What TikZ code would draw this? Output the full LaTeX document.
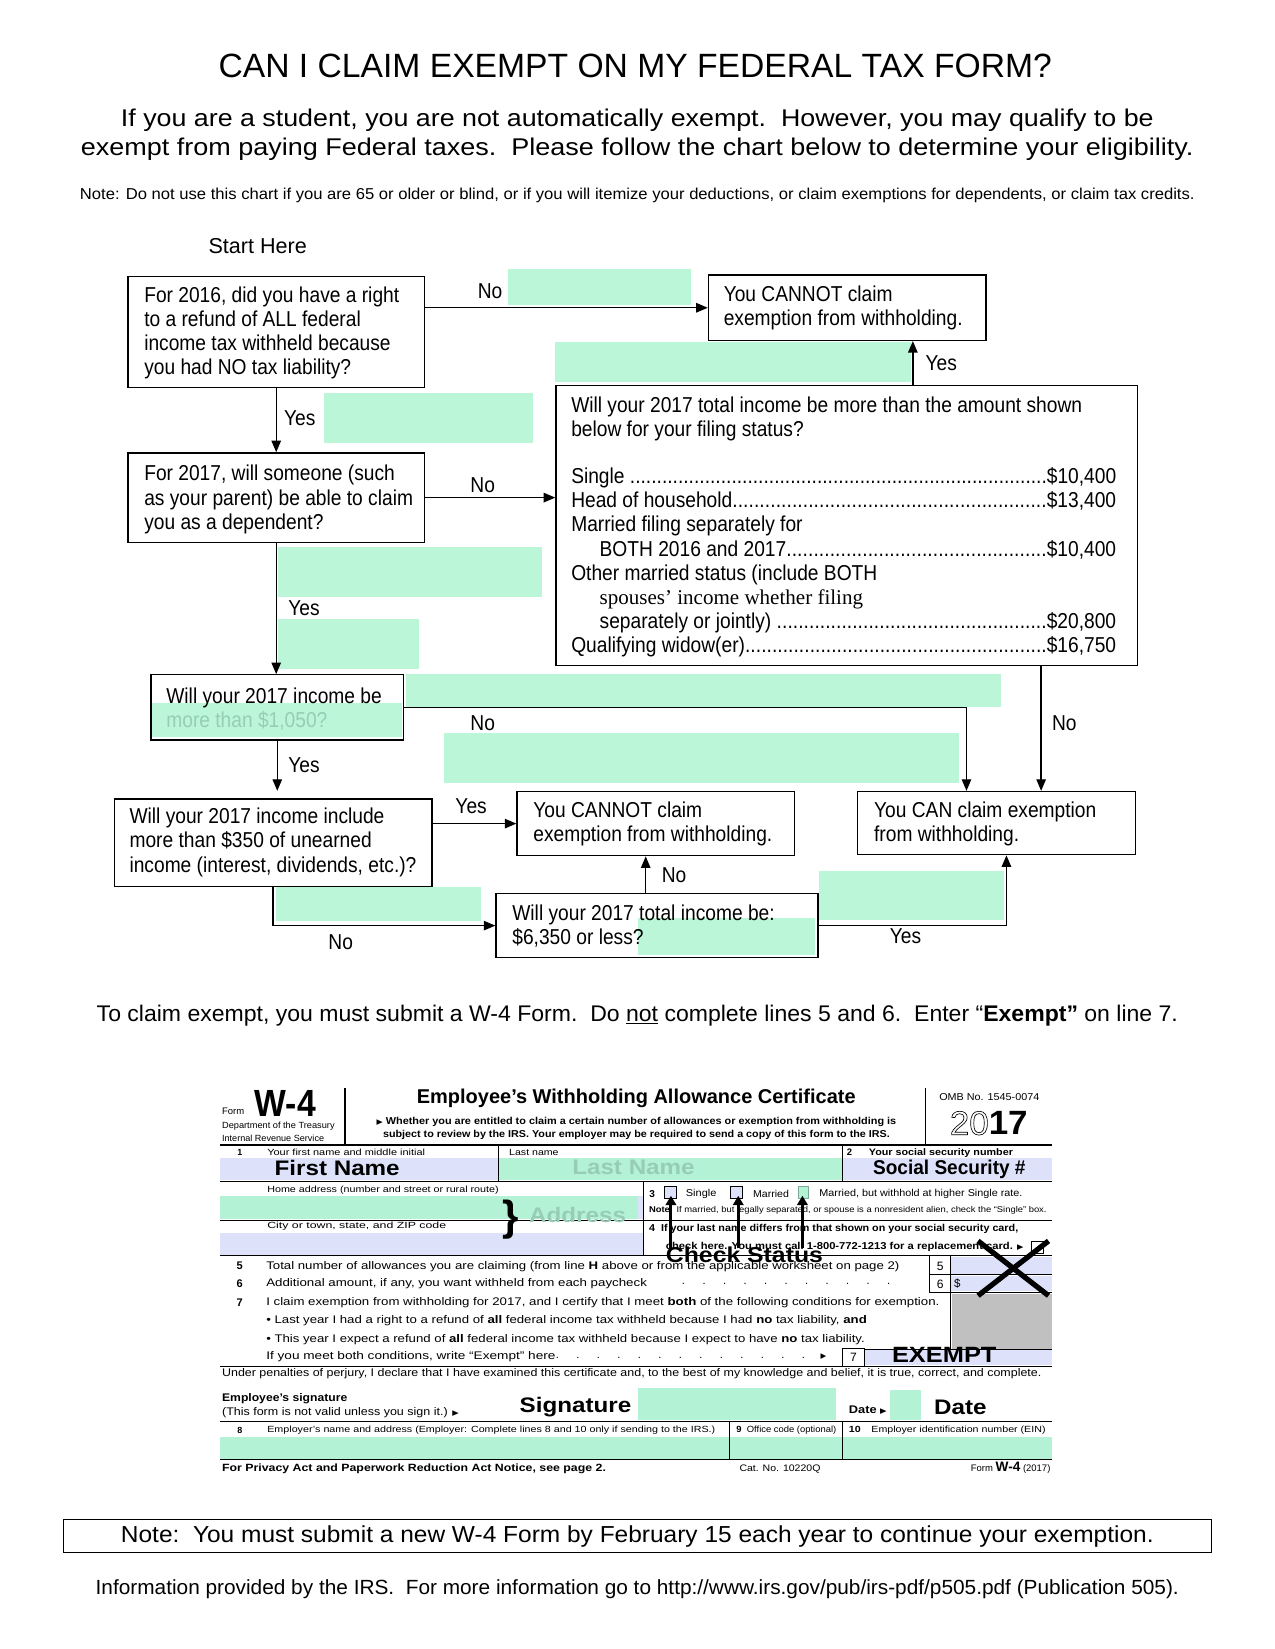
\documentclass[tikz,border=0pt]{standalone}
\usepackage{fontspec}
\usepackage{graphicx}
\setmainfont{Liberation Sans}
\newfontfamily\nar{Liberation Sans}[FakeStretch=0.89]
\newfontfamily\serifF{Liberation Serif}
\newfontfamily\symf{DejaVu Sans}
\usetikzlibrary{arrows.meta,calc}
\definecolor{mint}{RGB}{187,246,217}
\definecolor{formgreen}{RGB}{180,242,214}
\definecolor{lav}{RGB}{221,226,250}
\definecolor{fade}{RGB}{150,205,180}
\definecolor{grayfill}{RGB}{192,192,192}
\newcommand\fsz[2]{\fontsize{#1}{#2}\selectfont}
\newcommand\flow{\nar\fsz{20.5}{23}}
\newcommand\heavy[2][20]{\scalebox{1.15}[1]{\bfseries\fsz{#1}{#1}#2}}
\newcommand\dotsfill{\xleaders\hbox{.}\hfill}
\newcommand\spdots[1]{\makebox[#1][l]{\leaders\hbox to 19.5pt{\hss.\hss}\hfill}}
\newcommand\tri{{\symf\fsz{7}{7}▶}}
\newcommand\fitw[2]{\resizebox{#1}{\height}{#2}}
\newcommand\outlinetext[1]{\special{pdf:literal direct 1 Tr 0.6 w}#1\special{pdf:literal direct 0 Tr}}
\begin{document}
\begin{tikzpicture}[x=1pt,y=-1pt,
  box/.style={draw, line width=1.3pt, inner sep=0pt, anchor=north west},
  txt/.style={anchor=west, inner sep=0pt, align=left, font=\flow},
  lbl/.style={inner sep=0pt, font=\flow},
  arr/.style={line width=1.3pt, -{Triangle[length=11pt,width=9pt]}},
  patch/.style={fill=mint, draw=none},
  ft/.style={anchor=west, inner sep=0pt},
  fc/.style={inner sep=0pt},
  fl/.style={line width=0.8pt},
  fthick/.style={line width=1.8pt},
  bigarr/.style={line width=2.8pt, -{Triangle[length=9pt,width=10pt]}},
]
\useasboundingbox (0,0) rectangle (1212.3,1568);
\fill[white] (0,0) rectangle (1212.3,1568);

% ---------------- header ----------------
\node[fc, font=\fsz{32}{38}] (title) at (604,63) {CAN I CLAIM EXEMPT ON MY FEDERAL TAX FORM?};
\node[fc, align=center, font=\fsz{23}{27}] (sub) at (606,128) {\fitw{982pt}{If you are a student, you are not automatically exempt.\ \ However, you may qualify to be}\\\fitw{1058pt}{exempt from paying Federal taxes.\ \ Please follow the chart below to determine your eligibility.}};
\node[fc, font=\fsz{15}{15}] (note) at (606,186) {\fitw{1060pt}{Note: Do not use this chart if you are 65 or older or blind, or if you will itemize your deductions, or claim exemptions for dependents, or claim tax credits.}};
\node[fc, font=\fsz{20.5}{20.5}] (start) at (245,234) {Start Here};

% ---------------- green patches ----------------
\fill[patch] (483,256) rectangle (657,290);
\fill[patch] (528,325) rectangle (866,363);
\fill[patch] (308,374) rectangle (507,421);
\fill[patch] (264,520) rectangle (515,568);
\fill[patch] (264,589) rectangle (398,636);
\fill[patch] (386,641) rectangle (952,672);
\fill[patch] (422,697) rectangle (912,745);
\fill[patch] (144,668) rectangle (382,701);
\fill[patch] (262,843) rectangle (457,876);
\fill[patch] (607,873) rectangle (775,908);
\fill[patch] (779,828) rectangle (955,875);

% ---------------- boxes ----------------
\node[box, minimum width=282pt, minimum height=106pt] (q1) at (121,262) {};
\node[box, minimum width=264pt, minimum height=62pt] (c1) at (673,261) {};
\node[box, minimum width=553pt, minimum height=266pt] (big) at (528,366) {};
\node[box, minimum width=282pt, minimum height=85pt] (q2) at (121,430) {};
\node[box, minimum width=240pt, minimum height=62pt] (q3) at (143,641) {};
\node[box, minimum width=302pt, minimum height=83pt] (q4) at (108,759) {};
\node[box, minimum width=264pt, minimum height=61pt] (c2) at (491,752) {};
\node[box, minimum width=264pt, minimum height=60pt] (can) at (815,752) {};
\node[box, minimum width=306pt, minimum height=61pt] (q5) at (471,849) {};

\node[txt] (q1t) at (137,316.5) {For 2016, did you have a right\\to a refund of ALL federal\\income tax withheld because\\you had NO tax liability?};
\node[txt] (c1t) at (688,292.5) {You CANNOT claim\\exemption from withholding.};
\node[txt] (bigt) at (543,501) {Will your 2017 total income be more than the amount shown\\below for your filing status?\\[22pt]
\makebox[518pt][l]{Single \dotsfill\$10,400}\\
\makebox[518pt][l]{Head of household\dotsfill\$13,400}\\
Married filing separately for\\
\makebox[518pt][l]{\hspace*{27pt}BOTH 2016 and 2017\dotsfill\$10,400}\\
Other married status (include BOTH\\
\hspace*{27pt}{\serifF\fsz{20}{23}spouses’ income whether filing}\\
\makebox[518pt][l]{\hspace*{27pt}separately or jointly) \dotsfill\$20,800}\\
\makebox[518pt][l]{Qualifying widow(er)\dotsfill\$16,750}};
\node[txt] (q2t) at (137,475) {For 2017, will someone (such\\as your parent) be able to claim\\you as a dependent?};
\node[txt] (q3t) at (158,674) {Will your 2017 income be\\\textcolor{fade}{more than \$1,050?}};
\node[txt] (q4t) at (123,801) {Will your 2017 income include\\more than \$350 of unearned\\income (interest, dividends, etc.)?};
\node[txt] (c2t) at (507,783.5) {You CANNOT claim\\exemption from withholding.};
\node[txt] (cant) at (831,783.5) {You CAN claim exemption\\from withholding.};
\node[txt] (q5t) at (487,880.5) {Will your 2017 total income be:\\\$6,350 or less?};

% ---------------- connectors ----------------
\coordinate (k1) at (919,0);
\coordinate (k2) at (990,0);
\coordinate (k3) at (868,0);
\coordinate (k4) at (614,0);
\coordinate (k5) at (957,0);
\draw[arr] (q1.east |- c1.west) -- (c1.west);
\draw[arr] (k3 |- big.north) -- (k3 |- c1.south);
\draw[arr] (q1.south) -- (q2.north);
\draw[arr] (q2.east) -- (q2.east -| big.west);
\draw[arr] (q2.south) -- (q2.south |- q3.north);
\draw[arr] (q3.east) -- (q3.east -| k1) -- (k1 |- can.north);
\draw[arr] (k2 |- big.south) -- (k2 |- can.north);
\draw[arr, shorten >=7pt] (q3.south) -- (q3.south |- q4.north);
\draw[arr] (c2.west -| q4.east) -- (c2.west);
\draw[arr] (q4.south) -- (q4.south |- q5.west) -- (q5.west);
\draw[arr] (k4 |- q5.north) -- (k4 |- c2.south);
\draw[arr] (q5.east) -- (q5.east -| k5) -- (k5 |- can.south);

\node[lbl] (l1) at (466,277) {No};
\node[lbl] (l2) at (895,345) {Yes};
\node[lbl] (l3) at (285,398) {Yes};
\node[lbl] (l4) at (459,461) {No};
\node[lbl] (l5) at (289,578) {Yes};
\node[lbl] (l6) at (459,688) {No};
\node[lbl] (l7) at (1012,688) {No};
\node[lbl] (l8) at (289,728) {Yes};
\node[lbl] (l9) at (448,767) {Yes};
\node[lbl] (l10) at (324,896) {No};
\node[lbl] (l11) at (641,832) {No};
\node[lbl] (l12) at (861,890) {Yes};

\node[fc, font=\fsz{21.5}{21.5}] (claim) at (606,966) {\fitw{1028pt}{To claim exempt, you must submit a W-4 Form.\ \ Do \underline{not} complete lines 5 and 6.\ \ Enter “\textbf{Exempt”} on line 7.}};

% ---------------- W-4 form ----------------
\node[ft, font=\fsz{9}{9}] (formlbl) at (211,1057) {Form};
\node[ft, font=\nar\bfseries\fsz{36}{36}] (w4) at (242,1049) {W-4};
\node[ft, font=\nar\fsz{8.5}{8.5}] (dept) at (211,1071) {\fitw{107pt}{Department of the Treasury}};
\node[ft, font=\nar\fsz{8.5}{8.5}] (irsl) at (211,1082) {\fitw{97pt}{Internal Revenue Service}};
\draw[fthick] (328,1035) -- (328,1088);
\node[fc, font=\bfseries\fsz{19}{19}] (wtitle) at (605,1044) {Employee’s Withholding Allowance Certificate};
\node[ft, font=\bfseries\fsz{9.5}{9.5}] (wh1) at (358,1067) {\fitw{494pt}{\tri\ Whether you are entitled to claim a certain number of allowances or exemption from withholding is}};
\node[ft, font=\bfseries\fsz{9.5}{9.5}] (wh2) at (364,1079) {\fitw{482pt}{subject to review by the IRS. Your employer may be required to send a copy of this form to the IRS.}};
\draw[fthick] (880,1035) -- (880,1088);
\node[ft, font=\fsz{9.5}{9.5}] (omb) at (893,1043) {\fitw{95pt}{OMB No. 1545-0074}};
\node[ft, font=\fsz{32}{32}] (yr) at (903,1068) {\fitw{74pt}{\outlinetext{20}\textbf{17}}};
\draw[fthick] (209,1089) -- (1000,1089);

% row 1
\fill[lav] (209,1101) rectangle (474,1122);
\fill[formgreen] (474,1101) rectangle (801,1122);
\fill[lav] (801,1101) rectangle (1000,1122);
\node[fc, font=\bfseries\fsz{8.5}{8.5}] (n1) at (228,1096) {1};
\node[ft, font=\fsz{8.5}{8.5}] (fnl) at (254,1096) {\fitw{150pt}{Your first name and middle initial}};
\node[ft, font=\fsz{8.5}{8.5}] (lnl) at (484,1096) {\fitw{47pt}{Last name}};
\node[ft, font=\bfseries\fsz{9}{9}] (n2) at (805,1096) {2};
\node[ft, font=\bfseries\fsz{9}{9}] (ssl) at (826,1096) {\fitw{137pt}{Your social security number}};
\node[ft] (fn) at (261,1111) {\heavy{First Name}};
\node[ft, text=fade] (lnv) at (544,1110) {\heavy{Last Name}};
\node[ft, font=\bfseries\fsz{19}{19}] (ssv) at (830,1112) {\fitw{145pt}{Social Security \#}};
\draw[fl] (474,1089) -- (474,1123);
\draw[fl] (801,1089) -- (801,1123);
\draw[fl] (209,1123) -- (1000,1123);

% address rows
\node[ft, font=\fsz{8.5}{8.5}] (hal) at (254,1132) {\fitw{220pt}{Home address (number and street or rural route)}};
\fill[formgreen] (209,1137) rectangle (607,1159);
\fill[lav] (607,1137) rectangle (612,1159);
\draw[fl] (209,1160) -- (1000,1160);
\node[ft, font=\fsz{8.5}{8.5}] (cityl) at (254,1166) {\fitw{170pt}{City or town, state, and ZIP code}};
\fill[lav] (209,1172) rectangle (612,1193);
\node[ft, font=\bfseries\fsz{40}{40}] (brace) at (478,1160) {\}};
\node[ft, text=fade] (addr) at (503,1155) {\heavy{Address}};
\draw[fl] (612,1123) -- (612,1194);

% row 3/4
\node[fc, font=\bfseries\fsz{9.5}{9.5}] (n3) at (620,1135) {3};
\draw[fl, fill=lav] (632,1128) rectangle (643,1140);
\draw[fl, fill=lav] (695,1128) rectangle (706,1140);
\draw[fl, draw=formgreen!70!black, fill=formgreen] (759,1128) rectangle (769,1140);
\node[ft, font=\fsz{9.5}{9.5}] (sgl) at (652,1135) {\fitw{29pt}{Single}};
\node[ft, font=\fsz{9.5}{9.5}] (mar) at (716,1135) {\fitw{34pt}{Married}};
\node[ft, font=\fsz{9.5}{9.5}] (marh) at (779,1135) {\fitw{193pt}{Married, but withhold at higher Single rate.}};
\node[ft, font=\fsz{8}{8}] (n3note) at (617,1151) {\fitw{378pt}{\textbf{Note:} If married, but legally separated, or spouse is a nonresident alien, check the “Single” box.}};
\node[ft, font=\bfseries\fsz{9.5}{9.5}] (n4a) at (617,1169) {\fitw{351pt}{4\ \ If your last name differs from that shown on your social security card,}};
\node[ft, font=\bfseries\fsz{9.5}{9.5}] (n4b) at (633,1186) {\fitw{340pt}{check here. You must call 1-800-772-1213 for a replacement card. \tri}};
\draw[fl] (981,1180) rectangle (992,1192);
\draw[fl] (209,1194) -- (1000,1194);
\node[ft] (chk) at (633,1193) {\heavy[20.5]{Check Status}};
\draw[bigarr] (638,1187) -- (638,1137);
\draw[bigarr] (702,1187) -- (702,1137);
\draw[bigarr] (763,1187) -- (763,1137);

% rows 5,6
\fill[lav] (904,1195) rectangle (1000,1211);
\fill[lav] (904,1213) rectangle (1000,1228);
\fill[grayfill] (905,1230) rectangle (1000,1283);
\draw[fl] (884,1194) -- (884,1229);
\draw[fl] (904,1194) -- (904,1283);
\draw[fl] (884,1212) -- (1000,1212);
\draw[fl] (884,1229) -- (1000,1229);
\node[fc, font=\fsz{11.5}{11.5}] (b5) at (894,1204) {5};
\node[fc, font=\fsz{11.5}{11.5}] (b6) at (894,1221) {6};
\node[ft, font=\fsz{11}{11}] (dol) at (907,1221) {\$};
\node[fc, font=\bfseries\fsz{10.5}{10.5}] (n5) at (228,1204) {5};
\node[ft, font=\fsz{10.5}{10.5}] (t5) at (253,1204) {\fitw{602pt}{Total number of allowances you are claiming (from line \textbf{H} above or from the applicable worksheet on page 2)}};
\node[fc, font=\bfseries\fsz{10.5}{10.5}] (n6) at (228,1221) {6};
\node[ft, font=\fsz{10.5}{10.5}] (t6) at (253,1221) {\fitw{362pt}{Additional amount, if any, you want withheld from each paycheck}};
\node[ft, font=\fsz{10.5}{10.5}] (d6) at (640,1221) {\spdots{225pt}};

% row 7
\node[fc, font=\bfseries\fsz{10.5}{10.5}] (n7) at (228,1239) {7};
\node[ft, font=\fsz{10.5}{10.5}] (t7a) at (253,1239) {\fitw{640pt}{I claim exemption from withholding for 2017, and I certify that I meet \textbf{both} of the following conditions for exemption.}};
\node[ft, font=\fsz{10.5}{10.5}] (t7b) at (253,1256) {\fitw{571pt}{• Last year I had a right to a refund of \textbf{all} federal income tax withheld because I had \textbf{no} tax liability, \textbf{and}}};
\node[ft, font=\fsz{10.5}{10.5}] (t7c) at (253,1274) {\fitw{569pt}{• This year I expect a refund of \textbf{all} federal income tax withheld because I expect to have \textbf{no} tax liability.}};
\node[ft, font=\fsz{10.5}{10.5}] (t7d) at (253,1290) {\fitw{275pt}{If you meet both conditions, write “Exempt” here}};
\node[ft, font=\fsz{10.5}{10.5}] (d7) at (520,1290) {\spdots{255pt}\hspace{5pt}\tri};
\fill[lav] (822,1283) rectangle (1000,1298);
\draw[fl] (801,1282) rectangle (822,1299);
\draw[fl] (822,1283) -- (1000,1283);
\node[fc, font=\fsz{11.5}{11.5}] (b7) at (811.5,1290.5) {7};
\node[ft] (exm) at (848,1288) {\heavy[21]{EXEMPT}};
\draw[line width=5pt] (930,1180) -- (997,1232);
\draw[line width=5pt] (997,1180) -- (930,1232);
\draw[fl] (209,1299) -- (1000,1299);
\node[ft, font=\fsz{10.5}{10.5}] (perj) at (211,1306) {\fitw{779pt}{Under penalties of perjury, I declare that I have examined this certificate and, to the best of my knowledge and belief, it is true, correct, and complete.}};

% signature
\node[ft, font=\bfseries\fsz{10.5}{10.5}] (sigl) at (211,1330) {\fitw{119pt}{Employee’s signature}};
\node[ft, font=\fsz{10.5}{10.5}] (sigl2) at (211,1343) {\fitw{225pt}{(This form is not valid unless you sign it.) \tri}};
\node[ft] (sig) at (494,1338) {\heavy{Signature}};
\fill[formgreen] (607,1320) rectangle (795,1350);
\node[ft, font=\bfseries\fsz{10.5}{10.5}] (datel) at (807,1341) {\fitw{36pt}{Date \tri}};
\fill[formgreen] (846,1322) rectangle (876,1350);
\node[ft] (datev) at (888,1338) {\heavy{Date}};
\draw[fl] (209,1352) -- (1000,1352);

% row 8
\fill[formgreen] (209,1366) rectangle (1000,1387);
\node[fc, font=\bfseries\fsz{8.5}{8.5}] (n8) at (228,1360) {8};
\node[ft, font=\fsz{8.5}{8.5}] (t8) at (254,1360) {\fitw{426pt}{Employer’s name and address (Employer: Complete lines 8 and 10 only if sending to the IRS.)}};
\draw[fl] (694,1352) -- (694,1388);
\draw[fl] (801,1352) -- (801,1388);
\node[ft, font=\fsz{8.5}{8.5}] (t9) at (700,1360) {\fitw{95pt}{\textbf{9}\ \ Office code (optional)}};
\node[ft, font=\fsz{8.5}{8.5}] (t10) at (807,1360) {\fitw{187pt}{\textbf{10}\quad Employer identification number (EIN)}};
\draw[line width=1.2pt] (209,1388) -- (1000,1388);

% footer
\node[ft, font=\bfseries\fsz{10}{10}] (priv) at (211,1397) {\fitw{365pt}{For Privacy Act and Paperwork Reduction Act Notice, see page 2.}};
\node[ft, font=\fsz{9}{9}] (cat) at (703,1397) {\fitw{77pt}{Cat. No. 10220Q}};
\node[anchor=east, inner sep=0pt, font=\fsz{9}{9}] (fw4) at (999,1396) {Form {\bfseries\fsz{13}{13}W-4} (2017)};

% ---------------- bottom notes ----------------
\node[draw, line width=1pt, minimum width=1092pt, minimum height=31pt, inner sep=0pt] (notebox) at (606,1460.5) {};
\node[fc, font=\fsz{22}{22}] (notet) at (606,1461) {\fitw{982pt}{Note:\ \ You must submit a new W-4 Form by February 15 each year to continue your exemption.}};
\node[fc, font=\fsz{19.5}{19.5}] (info) at (606,1511) {\fitw{1030pt}{Information provided by the IRS.\ \ For more information go to http://www.irs.gov/pub/irs-pdf/p505.pdf (Publication 505).}};
\end{tikzpicture}
\end{document}
